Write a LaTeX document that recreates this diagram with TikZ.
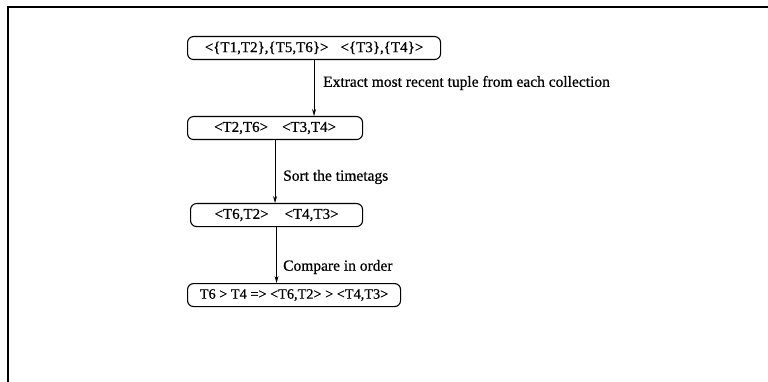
\documentclass[tikz,border=0pt]{standalone}
\usepackage{fontspec}
\setmainfont{Liberation Serif}[BoldFont={Liberation Serif},BoldFeatures={FakeBold=0.6}]
\usetikzlibrary{arrows.meta}
\begin{document}
\begin{tikzpicture}[x=1pt,y=-1pt,
  box/.style={draw,line width=1.1pt,rounded corners=6pt,minimum height=23pt,inner sep=0pt,anchor=north west,font=\fontsize{15}{17}\selectfont\bfseries},
  conn/.style={line width=0.8pt,-{Stealth[length=7pt,width=4pt]}},
  lab/.style={anchor=west,font=\fontsize{15.5}{17}\selectfont\bfseries,inner sep=0pt}]
\useasboundingbox (0,0) rectangle (768,382);
\draw[line width=1.1pt] (8,382) -- (8,7) -- (768,7);
\node[box,minimum width=253pt] (b1) at (187,36) {<\{T1,T2\},\{T5,T6\}>\hspace{12pt}<\{T3\},\{T4\}>};
\node[box,minimum width=175pt] (b2) at (187,116) {<T2,T6>\hspace{14pt}<T3,T4>};
\node[box,minimum width=172pt] (b3) at (190,203) {<T6,T2>\hspace{16pt}<T4,T3>};
\node[box,minimum width=213pt,font=\fontsize{14.3}{17}\selectfont\bfseries] (b4) at (187,283) {T6 > T4 => <T6,T2> > <T4,T3>};
\draw[conn] (b1.south) -- (b1.south |- b2.north);
\draw[conn] (b2.south) -- (b2.south |- b3.north);
\draw[conn] (b3.south) -- (b3.south |- b4.north);
\node[lab] (l1) at (323,83) {Extract most recent tuple from each collection};
\node[lab] (l2) at (283,177) {Sort the timetags};
\node[lab] (l3) at (283,267) {Compare in order};
\end{tikzpicture}
\end{document}
